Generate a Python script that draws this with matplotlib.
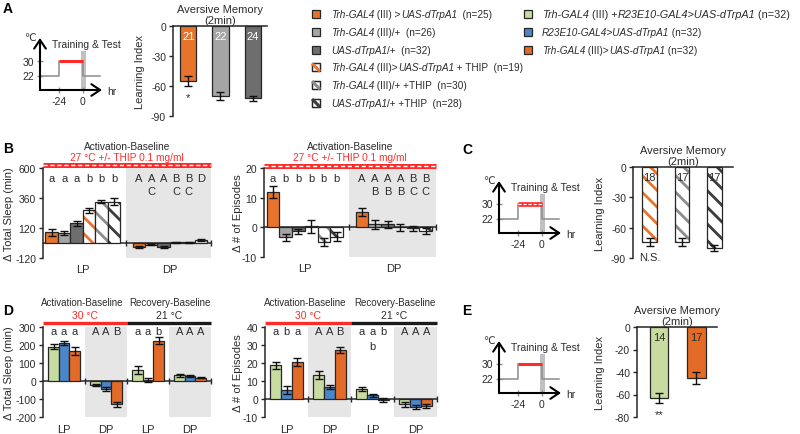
import numpy as np
import matplotlib
matplotlib.use('Agg')
import matplotlib.pyplot as plt
from matplotlib.patches import Rectangle

plt.rcParams['font.family'] = ['Liberation Sans', 'DejaVu Sans']
plt.rcParams['hatch.linewidth'] = 2.0
plt.rcParams['axes.unicode_minus'] = False

TXT = '#2b2b2b'
EDGE = '#262626'
ORANGE = '#E8742B'
ORANGE_D = '#E46B27'
GREY = '#A5A5A5'
DGREY = '#6E6E6E'
GREY_H = '#8C8C8C'
DGREY_H = '#3C3C3C'
GREEN = '#C8DCA2'
BLUE = '#4A86C8'
RED = '#FF2B2B'
SHADE = '#E6E6E6'

# ---------------- data ----------------
sched_hours = [-24, 0]
sched_temps = [22, 30]

# Panel A : aversive memory
a_n = ['21', '22', '24']
a_li = [-55, -70, -72]
a_li_err = [5, 4.3, 2.5]
a_sig = ['*', '', '']

# Panel B : sleep change (6 genotypes) for LP / DP
b_sleep_lp = [85, 80, 157, 262, 330, 332]
b_sleep_lp_err = [25, 18, 18, 20, 12, 25]
b_sleep_dp = [-35, -12, -28, 8, 6, 25]
b_sleep_dp_err = [8, 5, 8, 4, 3, 8]
b_sleep_lp_let = ['a', 'a', 'a', 'b', 'b', 'b']
b_sleep_dp_let = ['A', 'A', 'A', 'B', 'B', 'D']
b_sleep_dp_let2 = ['', 'C', '', 'C', 'C', '']
b_epi_lp = [11.9, -3.4, -1.4, 0.4, -5.0, -3.1]
b_epi_lp_err = [1.9, 1.1, 0.9, 2.2, 1.4, 1.6]
b_epi_dp = [5.2, 1.1, 1.0, 0.0, -0.3, -1.3]
b_epi_dp_err = [1.3, 1.5, 1.3, 1.2, 0.8, 1.0]
b_epi_lp_let = ['a', 'b', 'b', 'b', 'b', 'b']
b_epi_dp_let = ['A', 'A', 'A', 'A', 'B', 'B']
b_epi_dp_let2 = ['', 'B', 'B', 'B', 'C', 'C']

# Panel C
c_n = ['18', '17', '17']
c_li = [-74, -74, -80]
c_li_err = [4, 4, 3]
c_sig = ['N.S.', '', '']

# Panel D : groups = Act LP, Act DP, Rec LP, Rec DP ; bars = green, blue, orange
d_periods = ['LP', 'DP', 'LP', 'DP']
d_sleep = [[190, 212, 168], [-22, -46, -130], [60, 6, 225], [31, 30, 18]]
d_sleep_err = [[14, 12, 22], [8, 12, 15], [22, 9, 18], [10, 6, 4]]
d_sleep_let = [['a', 'a', 'a'], ['A', 'A', 'B'], ['a', 'a', 'b'], ['A', 'A', 'A']]
d_sleep_let2 = [['', '', ''], ['', '', ''], ['', '', ''], ['', '', '']]
d_epi = [[18.8, 5.0, 20.5], [13.4, 6.7, 27.2], [5.6, 2.0, -0.5], [-3.0, -4.5, -4.0]]
d_epi_err = [[2.0, 2.0, 2.3], [2.2, 1.3, 1.9], [1.1, 1.0, 1.2], [1.5, 1.2, 1.2]]
d_epi_let = [['a', 'b', 'a'], ['A', 'A', 'B'], ['a', 'a', 'b'], ['A', 'A', 'A']]
d_epi_let2 = [['', '', ''], ['', '', ''], ['', 'b', ''], ['', '', '']]

# Panel E
e_n = ['14', '17']
e_li = [-63, -45]
e_li_err = [4.5, 5.3]
e_sig = ['**', '']

# Legend
legend_left_labels = [
    [('Trh-GAL4', 'italic'), (' (III) >', 'normal'), ('UAS-dTrpA1', 'italic'), ('  (n=25)', 'normal')],
    [('Trh-GAL4', 'italic'), (' (III)/+  (n=26)', 'normal')],
    [('UAS-dTrpA1', 'italic'), ('/+  (n=32)', 'normal')],
    [('Trh-GAL4', 'italic'), (' (III)>', 'normal'), ('UAS-dTrpA1', 'italic'), (' + THIP  (n=19)', 'normal')],
    [('Trh-GAL4', 'italic'), (' (III)/+ +THIP  (n=30)', 'normal')],
    [('UAS-dTrpA1', 'italic'), ('/+ +THIP  (n=28)', 'normal')],
]
legend_left_colors = [ORANGE, GREY, DGREY, ORANGE, GREY_H, DGREY_H]
legend_left_hatched = [False, False, False, True, True, True]
legend_right_labels = [
    [('Trh-GAL4', 'italic'), (' (III) +', 'normal'), ('R23E10-GAL4>UAS-dTrpA1', 'italic'), (' (n=32)', 'normal')],
    [('R23E10-GAL4>UAS-dTrpA1', 'italic'), (' (n=32)', 'normal')],
    [('Trh-GAL4', 'italic'), (' (III)>', 'normal'), ('UAS-dTrpA1', 'italic'), (' (n=32)', 'normal')],
]
legend_right_colors = [GREEN, BLUE, ORANGE_D]
legend_right_fs = [7.85, 7.2, 7.2]

B_FACE = [ORANGE, GREY, DGREY, 'white', 'white', 'white']
B_HATCH = [None, None, None, ORANGE, GREY_H, DGREY_H]
D_FACE = [GREEN, BLUE, ORANGE_D]

# ---------------- figure ----------------
W, H = 800, 435
fig = plt.figure(figsize=(8, 4.35), dpi=100)
fig.patch.set_facecolor('white')


def px_axes(x0, y0, x1, y1):
    return fig.add_axes([x0 / W, 1 - y1 / H, (x1 - x0) / W, (y1 - y0) / H])


def style(ax):
    for s in ax.spines.values():
        s.set_color(EDGE)
        s.set_linewidth(1.1)
    ax.tick_params(colors=EDGE, labelcolor=TXT, labelsize=7.5, width=1, length=3, pad=2)


def draw_bars(ax, xs, vals, errs, fcs, hcs, width):
    for x, v, fc, hc in zip(xs, vals, fcs, hcs):
        if hc is None:
            ax.bar(x, v, width, color=fc, edgecolor=EDGE, linewidth=0.9, zorder=3)
        else:
            ax.bar(x, v, width, color='white', edgecolor=hc, hatch='\\\\', linewidth=0, zorder=3)
            ax.bar(x, v, width, fill=False, edgecolor=EDGE, linewidth=0.9, zorder=3)
    ax.errorbar(xs, vals, yerr=errs, fmt='none', ecolor='#111111', elinewidth=1,
                capsize=3, capthick=1, zorder=4)


def schematic(x0, y0, striped):
    ax = px_axes(x0, y0 - 52, x0 + 62, y0)
    t0, t1 = sched_hours
    lo, hi = sched_temps
    hpp = (t1 - t0) / 23.5
    cpp = (hi - lo) / 15.0
    xl = (t0 - 19 * hpp, t1 + 19 * hpp)
    yl = (lo - 14.5 * cpp, lo + 37.5 * cpp)
    ax.set_xlim(xl)
    ax.set_ylim(yl)
    for s in ax.spines.values():
        s.set_visible(False)
    ax.patch.set_alpha(0)
    ax.set_xticks([t0, t1], [str(t0), str(t1)])
    ax.set_yticks([lo, hi], [str(lo), str(hi)])
    ax.tick_params(direction='inout', length=4, width=1, color='#8c8c8c',
                   labelsize=7.5, labelcolor=TXT, pad=2)
    g = '#8c8c8c'
    ax.plot([xl[0], t0, t0], [lo, lo, hi], color=g, lw=1.1)
    ax.plot([t1, t1, t1 + 17 * hpp], [hi, lo, lo], color=g, lw=1.1)
    if striped:
        ax.plot([t0, t1], [hi, hi], color=RED, lw=3.4, solid_capstyle='butt')
        ax.plot([t0, t1], [hi, hi], color='white', lw=0.9, dashes=(2.5, 1.5))
    else:
        ax.plot([t0, t1], [hi, hi], color=RED, lw=2.2, solid_capstyle='butt')
    ax.axvspan(t1 - 1.5 * hpp, t1 + 3.5 * hpp, ymin=0, ymax=0.75, color='#BBBBBB', alpha=0.9, lw=0)
    arrow = dict(arrowstyle='->,head_length=0.45,head_width=0.3', lw=1.5, color='black',
                 shrinkA=0, shrinkB=0, mutation_scale=14)
    ax.annotate('', xy=(1, 0), xytext=(0, 0), xycoords='axes fraction', arrowprops=arrow)
    ax.annotate('', xy=(0, 1), xytext=(0, 0), xycoords='axes fraction', arrowprops=arrow)
    ax.text(0.74, 0.885, 'Training & Test', transform=ax.transAxes, ha='center', va='center',
            fontsize=7.5, color=TXT)
    ax.text(-0.16, 1.02, '℃', transform=ax.transAxes, ha='center', va='center', fontsize=7.5, color=TXT)
    ax.text(1.16, -0.02, 'hr', transform=ax.transAxes, ha='center', va='center', fontsize=7.5, color=TXT)


def memory_chart(box, vals, errs, ns, sig, fcs, hcs, ncolor, ylim, yticks, xlim, width, ylab_x):
    ax = px_axes(*box)
    xs = np.arange(len(vals))
    draw_bars(ax, xs, vals, errs, fcs, hcs, width)
    ax.set_xlim(xlim)
    ax.set_ylim(ylim)
    ax.set_yticks(yticks)
    ax.set_xticks([])
    ax.spines['bottom'].set_visible(False)
    ax.spines['right'].set_visible(False)
    style(ax)
    tr = ax.get_xaxis_transform()
    for x, n in zip(xs, ns):
        ax.text(x, 0.885, n, transform=tr, ha='center', va='center', color=ncolor, fontsize=8, zorder=5)
    for x, v, e, s in zip(xs, vals, errs, sig):
        if s:
            ax.annotate(s, xy=(x, v - e), xytext=(0, -8), textcoords='offset points',
                        ha='center', va='center', fontsize=8, color=TXT, annotation_clip=False)
    ax.set_ylabel('Learning Index', fontsize=8, color=TXT)
    ax.yaxis.set_label_coords(ylab_x, 0.5)
    ax.set_title('Aversive Memory\n(2min)', fontsize=8, color=TXT, pad=2, linespacing=1.15)
    return ax


def b_chart(box, lp, lp_e, dp, dp_e, lp_let, dp_let, dp_let2, ylim, yticks, ylabel, ylab_x):
    ax = px_axes(*box)
    xs_lp = np.arange(len(lp))
    xs_dp = np.arange(len(dp)) + len(lp) + 1
    split = len(lp)
    xr = xs_dp[-1] + 0.8
    ax.axvspan(split, xr, color=SHADE, lw=0, zorder=0)
    draw_bars(ax, xs_lp, lp, lp_e, B_FACE, B_HATCH, 1.0)
    draw_bars(ax, xs_dp, dp, dp_e, B_FACE, B_HATCH, 1.0)
    ax.set_xlim(-0.7, xr)
    ax.set_ylim(ylim)
    ax.set_yticks(yticks)
    ax.spines['top'].set_visible(False)
    ax.spines['right'].set_visible(False)
    ax.spines['bottom'].set_position(('data', 0))
    ax.set_xticks([split, xr], ['', ''])
    style(ax)
    ax.tick_params(axis='x', direction='inout', length=5)
    tr = ax.get_xaxis_transform()
    for x, l in zip(xs_lp, lp_let):
        ax.text(x, 0.89, l, transform=tr, ha='center', va='center', fontsize=8, color=TXT)
    for x, l, l2 in zip(xs_dp, dp_let, dp_let2):
        ax.text(x, 0.89, l, transform=tr, ha='center', va='center', fontsize=8, color=TXT)
        ax.text(x, 0.745, l2, transform=tr, ha='center', va='center', fontsize=8, color=TXT)
    ax.text(np.mean(xs_lp), -0.125, 'LP', transform=tr, ha='center', va='center', fontsize=8, color=TXT)
    ax.text(np.mean(xs_dp), -0.125, 'DP', transform=tr, ha='center', va='center', fontsize=8, color=TXT)
    ax.plot([0, 1], [1.028, 1.028], transform=ax.transAxes, color=RED, lw=3.6,
            clip_on=False, solid_capstyle='butt')
    ax.plot([0, 1], [1.028, 1.028], transform=ax.transAxes, color='white', lw=1.0,
            dashes=(3, 2), clip_on=False)
    ax.text(0.5, 1.118, '27 °C +/- THIP 0.1 mg/ml', transform=ax.transAxes, ha='center', va='center',
            fontsize=7.3, color=RED)
    ax.text(0.5, 1.25, 'Activation-Baseline', transform=ax.transAxes, ha='center', va='center',
            fontsize=7.3, color=TXT)
    ax.set_ylabel(ylabel, fontsize=8, color=TXT)
    ax.yaxis.set_label_coords(ylab_x, 0.5)
    return ax


def d_chart(box, vals, errs, let, let2, ylim, yticks, ylabel, ylab_x):
    ax = px_axes(*box)
    ng = len(vals)
    bounds = [4 * g for g in range(ng + 1)]
    for g in range(ng):
        if d_periods[g] == 'DP':
            ax.axvspan(bounds[g], bounds[g + 1], color=SHADE, lw=0, zorder=0)
        xs = bounds[g] + 1 + np.arange(len(vals[g]))
        draw_bars(ax, xs, vals[g], errs[g], D_FACE, [None] * 3, 1.0)
        tr = ax.get_xaxis_transform()
        for x, l, l2 in zip(xs, let[g], let2[g]):
            ax.text(x, 0.955, l, transform=tr, ha='center', va='center', fontsize=8, color=TXT)
            ax.text(x, 0.79, l2, transform=tr, ha='center', va='center', fontsize=8, color=TXT)
        ax.text(np.mean(xs), -0.133, d_periods[g], transform=tr, ha='center', va='center',
                fontsize=8, color=TXT)
    ax.set_xlim(bounds[0], bounds[-1])
    ax.set_ylim(ylim)
    ax.set_yticks(yticks)
    ax.spines['top'].set_visible(False)
    ax.spines['right'].set_visible(False)
    ax.spines['bottom'].set_position(('data', 0))
    ax.set_xticks(bounds[1:], [''] * ng)
    style(ax)
    ax.tick_params(axis='x', direction='inout', length=5)
    tr = ax.get_xaxis_transform()
    ax.plot([bounds[0], bounds[2]], [1.045, 1.045], transform=tr, color=RED, lw=2.4,
            clip_on=False, solid_capstyle='butt')
    ax.plot([bounds[2], bounds[4]], [1.045, 1.045], transform=tr, color='#1a1a1a', lw=2.4,
            clip_on=False, solid_capstyle='butt')
    ax.text(bounds[1], 1.133, '30 °C', transform=tr, ha='center', va='center', fontsize=7.5, color=RED)
    ax.text(bounds[3], 1.133, '21 °C', transform=tr, ha='center', va='center', fontsize=7.5, color=TXT)
    ax.text(bounds[1] - 0.3, 1.278, 'Activation-Baseline', transform=tr, ha='center', va='center',
            fontsize=7.0, color=TXT)
    ax.text(bounds[3] + 0.05, 1.278, 'Recovery-Baseline', transform=tr, ha='center', va='center',
            fontsize=7.0, color=TXT)
    ax.set_ylabel(ylabel, fontsize=8, color=TXT)
    ax.yaxis.set_label_coords(ylab_x, 0.5)
    return ax


# ---- Panel A
schematic(40, 91, False)
memory_chart((173, 27, 267, 117), a_li, a_li_err, a_n, a_sig, [ORANGE, GREY, DGREY], [None] * 3,
             'white', (-90, 0), [0, -30, -60, -90], (-0.48, 2.45), 0.5, -0.30)

# ---- Panel B
b_chart((43, 169, 211, 259), b_sleep_lp, b_sleep_lp_err, b_sleep_dp, b_sleep_dp_err,
        b_sleep_lp_let, b_sleep_dp_let, b_sleep_dp_let2, (-120, 600), [600, 360, 120, -120],
        'Δ Total Sleep (min)', -0.173)
b_chart((264, 169, 436, 258), b_epi_lp, b_epi_lp_err, b_epi_dp, b_epi_dp_err,
        b_epi_lp_let, b_epi_dp_let, b_epi_dp_let2, (-10, 20), [20, 10, 0, -10],
        'Δ # of Episodes', -0.122)

# ---- Panel C
schematic(499, 234, True)
memory_chart((633, 168, 733, 259), c_li, c_li_err, c_n, c_sig, ['white'] * 3,
             [ORANGE, GREY_H, DGREY_H], TXT, (-90, 0), [0, -30, -60, -90], (-0.51, 2.57), 0.46, -0.28)

# ---- Panel D
d_chart((43, 328, 211, 418), d_sleep, d_sleep_err, d_sleep_let, d_sleep_let2, (-200, 300),
        [300, 200, 100, 0, -100, -200], 'Δ Total Sleep (min)', -0.173)
d_chart((265, 328, 437, 418), d_epi, d_epi_err, d_epi_let, d_epi_let2, (-10, 40),
        [40, 30, 20, 10, 0, -10], 'Δ # of Episodes', -0.128)

# ---- Panel E
schematic(499, 394, False)
memory_chart((637, 328, 717, 418), e_li, e_li_err, e_n, e_sig, [GREEN, ORANGE_D], [None] * 2,
             TXT, (-80, 0), [0, -20, -40, -60, -80], (-0.59, 1.55), 0.5, -0.40)

# ---- overlay: panel letters & legend
ov = fig.add_axes([0, 0, 1, 1], zorder=10)
ov.set_xlim(0, W)
ov.set_ylim(H, 0)
ov.axis('off')
for lab, (x, y) in zip('ABCDE', [(8, 9), (8, 149), (467, 150), (8, 311), (467, 311)]):
    ov.text(x, y, lab, fontsize=10, fontweight='bold', ha='center', va='center', color='black')


def rich(x, y, pieces, fs=7.2):
    t = ov.text(x, y, pieces[0][0], style=pieces[0][1], fontsize=fs, ha='left', va='center', color=TXT)
    for s, st in pieces[1:]:
        t = ov.annotate(s, xycoords=t, xy=(1, 0), va='bottom', ha='left', style=st,
                        fontsize=fs, color=TXT)


def legend_square(x, y, color, hatched):
    if hatched:
        ov.add_patch(Rectangle((x - 4, y - 4), 8, 8, facecolor='white', edgecolor=EDGE, lw=0.9))
        ov.plot([x - 4, x + 4], [y - 4, y + 4], color=color, lw=2.2, solid_capstyle='butt')
        ov.add_patch(Rectangle((x - 4, y - 4), 8, 8, fill=False, edgecolor=EDGE, lw=0.9))
    else:
        ov.add_patch(Rectangle((x - 4, y - 4), 8, 8, facecolor=color, edgecolor=EDGE, lw=0.9))


for i, (pieces, c, h) in enumerate(zip(legend_left_labels, legend_left_colors, legend_left_hatched)):
    y = 15 + i * 17.8
    legend_square(316, y, c, h)
    rich(331, y, pieces)
for i, (pieces, c, fs) in enumerate(zip(legend_right_labels, legend_right_colors, legend_right_fs)):
    y = 15 + i * 17.8
    legend_square(528, y, c, False)
    rich(542, y, pieces, fs)

fig.savefig('out.png', dpi=100)
